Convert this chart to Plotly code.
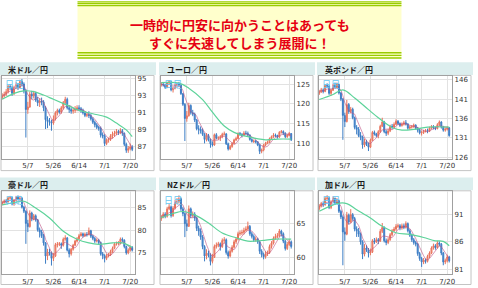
import plotly.graph_objects as go
import pandas as pd

W, H = 478, 288

# ---------------- data ----------------
dates = ["4/20","4/21","4/22","4/23","4/26","4/27","4/28","4/29","4/30","5/3","5/4","5/5","5/6","5/7",
         "5/10","5/11","5/12","5/13","5/14","5/17","5/18","5/19","5/20","5/21","5/24","5/25","5/26","5/27",
         "5/28","5/31","6/1","6/2","6/3","6/4","6/7","6/8","6/9","6/10","6/11","6/14","6/15","6/16","6/17",
         "6/18","6/21","6/22","6/23","6/24","6/25","6/28","6/29","6/30","7/1","7/2","7/5","7/6","7/7","7/8",
         "7/9","7/12","7/13","7/14","7/15","7/16","7/19","7/20","7/21"]
tick_labels = ["5/7", "5/26", "6/14", "7/1", "7/20"]
panel_titles = ["米ドル／円", "ユーロ／円", "英ポンド／円", "豪ドル／円", "NZドル／円", "加ドル／円"]
title_lines = ["一時的に円安に向かうことはあっても", "すぐに失速してしまう展開に！"]

usd_first_open = 92.8
usd_close = [93.0,93.2,93.5,94.1,94.0,93.3,94.0,94.3,94.0,94.7,94.4,93.6,91.4,91.7,93.2,93.0,93.3,92.5,92.2,92.4,
             92.3,91.6,90.2,90.0,89.9,89.8,90.3,91.0,91.3,91.1,91.6,92.2,92.6,91.6,91.4,91.2,91.3,91.4,91.6,91.5,
             91.3,91.0,90.7,90.8,90.7,90.3,89.9,89.6,89.3,89.2,88.4,88.3,87.4,87.8,87.9,88.3,88.5,88.6,88.8,88.7,
             88.9,88.6,87.3,86.6,86.8,87.0,86.7]
usd_high = [93.3,93.5,93.8,94.3,94.4,94.2,94.2,94.6,94.5,94.9,95.0,94.6,93.8,92.3,93.5,93.6,93.6,93.5,92.9,92.7,
            92.8,92.5,91.8,90.6,90.4,90.2,90.7,91.2,91.5,91.5,91.8,92.4,92.9,92.8,91.9,91.6,91.6,91.8,91.9,91.9,
            91.7,91.5,91.2,91.1,91.2,90.9,90.5,90.1,89.8,89.5,89.4,88.7,88.5,88.0,88.1,88.5,88.8,88.9,89.1,89.0,
            89.2,89.1,88.7,87.5,87.1,87.4,87.2]
usd_low = [92.6,92.8,93.0,93.3,93.7,93.0,93.1,93.8,93.7,93.9,94.1,93.3,88.1,90.9,91.6,92.6,92.7,92.3,91.8,91.7,
           91.9,91.2,89.1,89.2,89.5,88.9,89.6,90.1,90.7,90.9,90.9,91.4,92.0,91.4,91.0,90.9,90.9,91.0,91.2,91.2,
           91.0,90.8,90.5,90.5,90.4,90.1,89.7,89.3,89.1,88.9,88.1,88.0,87.1,87.2,87.5,87.7,88.0,88.2,88.4,88.4,
           88.5,88.3,87.1,86.3,86.3,86.6,86.5]
usd_ma_idx = [0, 6, 11, 16, 21, 26, 32, 39, 46, 53, 58, 63, 66]
usd_ma_val = [92.6, 93.3, 93.6, 93.5, 93.1, 92.6, 92.0, 91.3, 90.9, 90.5, 89.8, 89.0, 88.2]

eur_first_open = 124.8
eur_close = [125.0,124.8,124.2,125.3,125.6,123.6,124.0,124.8,125.0,124.8,122.6,119.9,116.3,117.0,119.6,117.8,117.4,
             115.9,113.7,113.6,113.2,112.3,111.0,112.0,110.8,109.9,109.6,112.2,111.3,111.4,111.7,112.3,112.4,109.9,
             108.6,109.2,110.0,110.9,111.2,112.5,112.3,112.0,112.6,112.5,112.1,111.0,110.5,110.6,110.4,109.6,108.0,
             108.3,109.6,110.0,110.4,111.2,111.7,112.1,112.0,111.6,112.8,113.0,112.6,111.7,112.0,112.5,110.9]
eur_high = [125.5,125.4,125.1,125.6,126.0,125.8,124.4,125.2,125.4,125.6,125.0,122.8,120.2,118.2,120.3,119.9,118.5,
            117.8,116.2,114.6,114.3,113.8,112.6,112.6,112.4,111.2,110.5,112.5,112.6,111.8,112.1,112.7,113.0,112.6,
            110.2,109.6,110.3,111.2,111.7,112.8,112.9,112.6,113.1,113.2,113.0,112.3,111.3,111.0,110.9,110.6,109.8,
            108.7,109.9,110.4,110.7,111.5,112.0,112.6,112.5,112.2,113.1,113.4,113.3,112.8,112.4,112.9,112.6]
eur_low = [124.4,124.4,123.8,124.0,125.0,123.2,122.9,123.7,124.4,124.5,122.3,119.5,110.6,115.5,116.8,117.3,116.9,
           115.4,113.3,112.3,112.5,111.9,110.0,110.5,110.5,108.9,109.2,109.4,111.0,110.9,110.6,111.3,112.0,109.6,
           108.2,108.3,108.9,109.8,110.6,111.1,111.9,111.5,111.8,112.2,111.8,110.7,110.2,110.1,110.0,109.3,107.3,
           107.5,108.0,109.3,109.8,110.1,110.9,111.4,111.6,111.2,111.4,112.5,112.1,111.3,111.4,111.8,110.6]
eur_ma_idx = [0, 9, 14, 21, 26, 32, 37, 44, 53, 59, 66]
eur_ma_val = [125.4, 125.3, 124.0, 121.1, 117.9, 114.4, 112.8, 111.7, 110.9, 111.1, 111.1]

gbp_first_open = 142.5
gbp_close = [142.9,143.4,143.0,144.5,144.4,142.5,143.3,144.6,144.1,144.8,142.6,141.0,136.8,135.2,139.6,137.8,138.4,
             136.2,133.7,133.2,131.6,131.2,129.2,130.0,129.3,128.6,130.4,132.4,132.0,131.6,132.6,134.0,135.1,132.6,
             132.2,132.8,134.0,133.8,134.5,135.3,134.7,134.2,134.5,134.9,134.6,133.5,133.8,133.9,134.3,133.5,133.0,
             132.3,132.4,132.7,132.9,132.7,133.5,133.9,133.6,133.4,134.4,135.1,133.8,133.0,133.2,133.6,131.6]
gbp_high = [143.4,143.9,143.8,144.9,145.1,144.6,143.8,145.0,145.3,145.3,145.0,142.9,141.3,137.5,140.8,140.0,139.0,
            138.8,136.5,134.3,133.8,132.5,131.6,130.8,130.5,129.8,130.8,132.8,132.9,132.3,133.0,134.4,136.2,135.4,
            133.1,133.3,134.4,134.6,135.0,135.8,135.6,135.0,135.0,135.4,135.6,134.8,134.2,134.3,134.7,134.5,133.8,
            133.3,132.9,133.1,133.3,133.4,133.9,134.3,134.3,133.9,134.8,135.5,135.3,134.1,133.7,134.0,133.8]
gbp_low = [142.1,142.6,142.5,142.8,144.0,142.1,141.9,143.1,143.7,143.8,142.2,140.5,130.5,133.8,135.0,137.2,137.3,
           135.8,133.2,131.9,131.2,130.4,128.2,128.6,128.9,127.6,128.4,130.2,131.6,131.2,130.9,132.3,133.8,132.2,
           131.5,131.7,132.5,133.3,133.5,134.3,134.3,133.8,133.9,134.2,134.2,133.1,133.1,133.4,133.6,133.1,132.4,
           131.9,131.6,132.0,132.4,132.2,132.5,133.2,133.2,133.0,133.2,134.1,133.4,132.6,132.6,132.9,131.3]
gbp_ma_idx = [0, 7, 12, 18, 25, 30, 37, 42, 48, 55, 66]
gbp_ma_val = [140.9, 142.2, 143.4, 141.3, 138.3, 136.2, 133.7, 133.0, 133.2, 133.8, 133.8]

aud_first_open = 85.8
aud_close = [86.1,86.5,86.3,87.1,87.2,85.8,86.6,87.3,86.9,87.1,85.1,84.2,81.5,80.8,83.8,82.5,83.2,82.3,80.1,79.6,
             78.8,77.2,74.3,75.2,75.0,73.8,74.3,76.8,76.9,77.0,76.7,78.0,78.3,75.6,74.8,75.8,76.7,77.6,78.1,78.8,
             79.2,78.8,79.1,79.0,79.9,78.7,78.2,77.6,77.8,77.3,74.8,74.4,73.8,74.3,74.6,75.3,76.0,77.0,77.0,77.1,
             78.0,77.8,76.4,75.0,75.6,76.2,75.6]
aud_high = [86.5,86.8,86.9,87.4,87.6,87.4,86.9,87.6,87.7,87.6,87.3,85.4,84.4,82.3,84.4,84.1,83.6,83.5,82.5,80.6,
            80.1,79.2,77.4,75.9,75.9,75.3,75.0,77.2,77.4,77.4,77.3,78.4,78.9,78.5,76.0,76.1,77.0,77.9,78.5,79.2,
            79.6,79.5,79.5,79.6,80.6,80.1,79.0,78.5,78.2,78.1,77.5,75.2,74.7,74.8,75.0,75.7,76.4,77.3,77.5,77.6,
            78.4,78.4,78.0,76.6,76.0,76.6,76.5]
aud_low = [85.5,85.9,86.0,86.1,86.8,85.5,85.4,86.4,86.6,86.7,84.8,83.8,77.0,79.6,80.6,82.0,82.2,81.9,79.7,78.4,
           78.3,76.6,72.6,73.4,74.4,72.2,73.2,74.1,76.2,76.5,75.9,76.4,77.7,75.3,74.0,74.4,75.5,76.5,77.3,77.9,
           78.6,78.4,78.5,78.6,78.9,78.3,77.8,77.2,77.3,76.9,74.4,73.6,72.9,73.4,74.0,74.3,75.0,75.8,76.6,76.7,
           76.9,77.4,76.0,74.6,74.7,75.3,75.3]
aud_ma_idx = [0, 6, 11, 17, 24, 31, 38, 44, 49, 56, 61, 66]
aud_ma_val = [85.6, 86.1, 86.4, 84.9, 82.7, 79.8, 78.0, 77.2, 76.9, 77.2, 77.2, 76.2]

nzd_first_open = 65.7
nzd_close = [66.0,66.4,66.1,67.2,67.5,66.2,67.3,68.2,68.3,68.7,67.2,66.5,65.0,64.6,67.2,66.2,66.4,65.8,64.3,63.9,
             63.0,61.6,60.2,60.6,60.4,59.4,60.0,61.6,61.8,62.0,61.6,62.5,62.6,60.7,60.2,60.9,61.5,62.3,62.7,63.5,
             63.6,63.7,64.0,64.2,64.6,63.5,63.1,62.6,62.7,62.3,60.9,60.4,60.1,60.5,60.7,61.6,62.1,62.8,63.1,63.2,
             63.9,63.5,62.4,61.3,61.9,62.3,61.6]
nzd_high = [66.3,66.7,66.7,67.5,67.9,67.7,67.6,68.5,68.8,69.2,68.9,67.5,66.7,65.6,67.7,67.4,66.8,66.7,66.0,64.7,
            64.3,63.3,61.8,61.2,61.0,60.6,60.5,61.9,62.2,62.3,62.2,62.8,63.0,62.8,61.0,61.2,61.8,62.6,63.0,63.8,
            64.0,64.1,64.4,64.6,65.3,64.8,63.8,63.4,63.1,62.9,62.5,61.2,60.7,60.9,61.0,61.9,62.4,63.1,63.5,63.6,
            64.2,64.1,63.7,62.6,62.3,62.7,62.5]
nzd_low = [65.4,65.8,65.8,65.9,67.0,65.9,66.0,67.1,67.9,68.0,66.9,66.1,63.0,63.9,64.5,65.8,65.9,65.4,63.9,63.2,
           62.6,61.2,59.4,59.7,60.0,58.8,59.1,59.9,61.3,61.5,61.0,61.4,62.1,60.4,59.8,60.0,60.7,61.3,62.0,62.5,
           63.2,63.3,63.4,63.8,64.0,63.2,62.8,62.3,62.3,62.0,60.5,60.0,59.7,59.8,60.2,60.5,61.3,61.9,62.6,62.8,
           63.0,63.1,62.1,61.0,61.1,61.7,61.3]
nzd_ma_idx = [0, 6, 11, 17, 24, 31, 38, 44, 51, 58, 66]
nzd_ma_val = [65.9, 66.5, 66.8, 66.3, 65.1, 63.6, 62.9, 62.4, 62.5, 62.7, 62.7]

cad_first_open = 92.0
cad_close = [92.4,92.9,92.7,93.8,93.9,92.2,93.2,93.8,93.0,93.4,91.5,90.5,87.8,87.4,90.8,89.6,90.9,90.2,88.3,88.0,
             87.4,86.0,83.8,84.9,84.6,84.0,84.2,86.2,86.0,86.4,86.2,87.9,88.6,86.2,85.9,86.4,87.3,88.0,88.3,88.8,
             88.9,88.5,88.9,88.6,89.3,88.0,87.2,86.4,85.9,85.6,83.9,83.0,82.4,82.7,82.5,83.4,84.0,84.9,85.3,85.0,
             85.8,85.6,84.0,82.4,82.6,83.3,82.6]
cad_high = [92.8,93.2,93.3,94.1,94.4,94.1,93.5,94.2,94.0,93.9,93.6,91.8,90.8,88.6,91.4,91.1,91.9,91.2,90.5,88.8,
            88.5,87.7,86.3,85.6,85.4,84.9,84.8,86.5,86.7,86.8,86.7,88.3,89.4,88.8,86.6,86.8,87.6,88.3,88.7,89.2,
            89.3,89.2,89.3,89.3,89.7,89.5,88.3,87.5,86.7,86.2,85.8,84.2,83.3,83.1,83.0,83.7,84.3,85.2,85.7,85.6,
            86.2,86.1,85.8,84.2,83.0,83.7,83.5]
cad_low = [91.7,92.2,92.3,92.5,93.5,91.9,91.9,93.0,92.7,92.8,91.2,90.1,81.8,86.2,87.2,89.1,89.4,89.8,87.9,86.9,
           86.9,85.5,82.9,83.4,84.2,83.2,83.6,84.0,85.6,85.8,85.6,86.0,87.6,85.9,85.4,85.6,86.2,87.0,87.8,88.0,
           88.5,88.1,88.2,88.3,88.4,87.7,86.9,86.0,85.5,85.2,83.5,82.6,81.5,82.0,82.1,82.3,83.1,83.8,84.6,84.6,
           84.8,85.2,83.6,81.8,82.0,82.3,82.3]
cad_ma_idx = [0, 9, 14, 19, 26, 32, 39, 46, 53, 59, 63, 66]
cad_ma_val = [91.5, 92.9, 92.9, 91.8, 90.3, 88.8, 87.65, 87.35, 86.8, 86.2, 86.1, 85.3]

y_ranges = [[85.6, 95.35], [106.1, 127.1], [125.6, 147.0], [70.3, 88.6], [57.5, 69.8], [80.2, 95.1]]
y_ticks = [[87, 89, 91, 93, 95], [110, 115, 120, 125], [126, 131, 136, 141, 146], [75, 80, 85], [60, 65], [81, 86, 91]]

panels = [
    (usd_first_open, usd_close, usd_high, usd_low, usd_ma_idx, usd_ma_val),
    (eur_first_open, eur_close, eur_high, eur_low, eur_ma_idx, eur_ma_val),
    (gbp_first_open, gbp_close, gbp_high, gbp_low, gbp_ma_idx, gbp_ma_val),
    (aud_first_open, aud_close, aud_high, aud_low, aud_ma_idx, aud_ma_val),
    (nzd_first_open, nzd_close, nzd_high, nzd_low, nzd_ma_idx, nzd_ma_val),
    (cad_first_open, cad_close, cad_high, cad_low, cad_ma_idx, cad_ma_val),
]

# ---------------- layout geometry (pixels) ----------------
def px(x):
    return x / W

def py(y):
    return 1 - y / H

col_left = [1, 161, 320]
row_top = [62, 179]

idx = list(range(len(dates)))
tick_idx = [dates.index(t) for t in tick_labels]

fig = go.Figure()
shapes = []
annotations = []

# title box
BX0, BX1 = 78, 404
shapes.append(dict(type="rect", xref="paper", yref="paper", x0=px(BX0), x1=px(BX1), y0=py(58), y1=py(0.5),
                   fillcolor="#FFFFCC", line=dict(width=0), layer="below"))
for yy in [0.8, 2.6, 4.6, 52.5, 55.2, 57.8]:
    shapes.append(dict(type="line", xref="paper", yref="paper", x0=px(BX0), x1=px(BX1), y0=py(yy), y1=py(yy),
                       line=dict(color="#99CC00", width=1.3), layer="below"))
for i, t in enumerate(title_lines):
    annotations.append(dict(text="<b>" + t + "</b>", x=px(242), y=py(23.5 + 19 * i),
                            xref="paper", yref="paper", showarrow=False, xanchor="center", yanchor="middle",
                            font=dict(family="Noto Sans CJK JP", size=13, color="#E60012")))

for k in range(6):
    r, c = divmod(k, 3)
    L = col_left[c]
    T = row_top[r]
    first_open, close, high, low, ma_idx, ma_val = panels[k]
    opens = [first_open] + close[:-1]
    ax = "" if k == 0 else str(k + 1)

    # header band and outer box
    shapes.append(dict(type="rect", xref="paper", yref="paper", x0=px(L - 1), x1=px(L + 156),
                       y0=py(T + 13), y1=py(T), fillcolor="#DCEEEE", line=dict(width=0), layer="below"))
    shapes.append(dict(type="rect", xref="paper", yref="paper", x0=px(L), x1=px(L + 154),
                       y0=py(min(T + 110, 287.5)), y1=py(T + 13.5), fillcolor="#FFFFFF",
                       line=dict(color="#C4C4C4", width=1), layer="below"))
    annotations.append(dict(text="<b>" + panel_titles[k] + "</b>", x=px(L + 5), y=py(T + 7), xref="paper",
                            yref="paper", showarrow=False, xanchor="left", yanchor="middle",
                            font=dict(family="Noto Sans CJK JP", size=8, color="#1A1A1A")))

    x0p, x1p = L + 1, L + 135
    y0p, y1p = T + 14, T + 98
    annotations.append(dict(text="日足", x=px(x0p + 1.5), y=py(y0p + 0.5), xref="paper", yref="paper",
                            showarrow=False, xanchor="left", yanchor="top",
                            font=dict(family="Noto Sans CJK JP", size=9, color="#66C6F0")))

    fig.add_trace(go.Candlestick(
        x=idx, open=opens, high=high, low=low, close=close,
        xaxis="x" + ax, yaxis="y" + ax, whiskerwidth=0,
        increasing=dict(line=dict(color="#E8735C", width=1), fillcolor="#F6A48E"),
        decreasing=dict(line=dict(color="#3B7CC4", width=1), fillcolor="#5E9BD8"),
        showlegend=False, hoverinfo="skip"))
    ma5 = pd.Series(close).rolling(5, min_periods=1).mean().tolist()
    fig.add_trace(go.Scatter(x=idx, y=ma5, mode="lines", xaxis="x" + ax, yaxis="y" + ax,
                             line=dict(color="rgba(190,80,130,0.75)", width=0.8), showlegend=False,
                             hoverinfo="skip"))
    fig.add_trace(go.Scatter(x=ma_idx, y=ma_val, mode="lines", xaxis="x" + ax, yaxis="y" + ax,
                             line=dict(color="#5DD39A", width=1.2, shape="spline", smoothing=1.0),
                             showlegend=False, hoverinfo="skip"))

    fig.layout["xaxis" + ax] = dict(
        domain=[px(x0p), px(x1p)], anchor="y" + ax, range=[-0.13, 67.5],
        tickvals=tick_idx, ticktext=tick_labels, showgrid=True, gridcolor="#E2E2E2", gridwidth=1,
        showline=True, mirror=True, linecolor="#A0A0A0", linewidth=1, ticks="", zeroline=False,
        tickfont=dict(family="DejaVu Sans", size=7, color="#333333"), rangeslider=dict(visible=False),
        fixedrange=True)
    fig.layout["yaxis" + ax] = dict(
        domain=[py(y1p), py(y0p)], anchor="x" + ax, side="right", range=y_ranges[k],
        tickvals=y_ticks[k], showgrid=True, gridcolor="#E2E2E2", gridwidth=1,
        showline=True, mirror=True, linecolor="#A0A0A0", linewidth=1, ticks="", zeroline=False,
        tickfont=dict(family="DejaVu Sans", size=7, color="#333333"), fixedrange=True)

fig.update_layout(width=W, height=H, margin=dict(l=0, r=0, t=0, b=0), autosize=False,
                  paper_bgcolor="#FFFFFF", plot_bgcolor="rgba(0,0,0,0)",
                  shapes=shapes, annotations=annotations, showlegend=False)
fig.write_html("out.html")
